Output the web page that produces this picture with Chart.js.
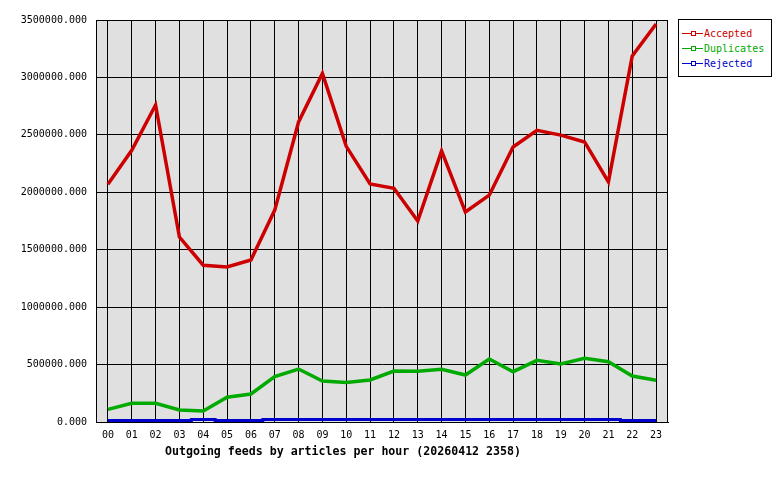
<!DOCTYPE html>
<html>
<head>
<meta charset="utf-8">
<script src="https://cdn.jsdelivr.net/npm/chart.js@4/dist/chart.umd.min.js"></script>
<style>
    body { margin: 0; background: #ffffff; }
    #wrap { position: relative; width: 780px; height: 480px; }
    #legend {
        position: absolute; left: 678px; top: 19px; width: 92px; height: 56px;
        border: 1px solid #000; background: #fff;
        font-family: "DejaVu Sans Mono", monospace; font-size: 10px;
    }
    .item { position: absolute; left: 3px; height: 12px; line-height: 12px; white-space: nowrap; }
    .sym { display: inline-block; position: relative; width: 21px; height: 12px; vertical-align: top; margin-right: 1px; }
    .sym .ln { position: absolute; left: 0; top: 5px; width: 21px; height: 1px; }
    .sym .mk { position: absolute; left: 9px; top: 3px; width: 3px; height: 3px; background: #fff; }
</style>
</head>
<body>
<div id="wrap">
    <canvas id="chart" width="780" height="480"></canvas>
    <div id="legend"></div>
</div>
<script>
// hours on the x axis
const hours = ["00","01","02","03","04","05","06","07","08","09","10","11",
               "12","13","14","15","16","17","18","19","20","21","22","23"];

// articles per hour
const accepted = [2070000, 2365000, 2760000, 1610000, 1365000, 1350000, 1410000, 1845000,
                  2612000, 3035000, 2400000, 2072000, 2035000, 1750000, 2360000, 1828000,
                  1975000, 2394000, 2540000, 2498000, 2438000, 2090000, 3187000, 3465000];
const duplicates = [110000, 163000, 163000, 104000, 96000, 215000, 244000, 395000,
                    461000, 357000, 345000, 366000, 444000, 441000, 459000, 409000,
                    548000, 438000, 537000, 505000, 555000, 525000, 400000, 363000];
const rejected = [13000, 13000, 13000, 13000, 22000, 13000, 13000, 22000,
                  22000, 22000, 22000, 22000, 22000, 22000, 22000, 22000,
                  22000, 22000, 22000, 22000, 22000, 22000, 13000, 13000];

const seriesNames = ["Accepted", "Duplicates", "Rejected"];
const seriesColors = ["#cc0000", "#00aa00", "#0000cc"];

const yMax = 3500000;
const yStep = 500000;
const xTitle = "Outgoing feeds by articles per hour (20260412 2358)";

// legend box (html)
const legend = document.getElementById("legend");
seriesNames.forEach((name, i) => {
    const c = seriesColors[i];
    const div = document.createElement("div");
    div.className = "item";
    div.style.top = (8 + i * 15) + "px";
    div.style.color = c;
    div.innerHTML = `<span class="sym"><span class="ln" style="background:${c}"></span>` +
                    `<span class="mk" style="border:1px solid ${c}"></span></span>${name}`;
    legend.appendChild(div);
});

// gray plot background, right border, title under the hours
const plotBox = {
    id: "plotBox",
    beforeDraw(chart) {
        const { ctx, chartArea: a } = chart;
        ctx.save();
        ctx.fillStyle = "#e0e0e0";
        ctx.fillRect(a.left, a.top, a.right - a.left, a.bottom - a.top);
        ctx.restore();
    },
    beforeDatasetsDraw(chart) {
        const { ctx, chartArea: a } = chart;
        ctx.save();
        ctx.strokeStyle = "#000";
        ctx.lineWidth = 1;
        ctx.strokeRect(a.left + 0.5, a.top + 0.5, a.right - a.left - 1, a.bottom - a.top);
        ctx.restore();
    },
    afterDraw(chart) {
        const { ctx, chartArea: a } = chart;
        ctx.save();
        ctx.font = "bold 11.6px 'DejaVu Sans Mono'";
        ctx.fillStyle = "#000";
        ctx.textAlign = "left";
        ctx.textBaseline = "middle";
        ctx.fillText(xTitle, a.left + 69, a.bottom + 30);
        ctx.restore();
    }
};

const allData = [accepted, duplicates, rejected];

new Chart(document.getElementById("chart"), {
    type: "line",
    data: {
        labels: hours,
        datasets: seriesNames.map((name, i) => ({
            label: name,
            data: allData[i],
            borderColor: seriesColors[i],
            borderWidth: i === 2 ? 3 : 3.5,
            pointRadius: 0,
            tension: 0,
            fill: false,
            stepped: i === 2 ? "middle" : false
        }))
    },
    plugins: [plotBox],
    options: {
        responsive: false,
        animation: false,
        layout: { padding: { left: 0, right: 112, top: 20, bottom: 20 } },
        plugins: {
            legend: { display: false },
            tooltip: { enabled: false }
        },
        scales: {
            x: {
                offset: true,
                grid: { offset: false, color: "#000", drawTicks: false },
                border: { color: "#000" },
                ticks: {
                    color: "#000",
                    padding: 7,
                    maxRotation: 0,
                    autoSkip: false,
                    font: { family: "DejaVu Sans Mono", size: 10 }
                },
                afterFit(scale) { scale.height = 38; }
            },
            y: {
                min: 0,
                max: yMax,
                grid: { color: "#000", drawTicks: false },
                border: { color: "#000" },
                ticks: {
                    stepSize: yStep,
                    color: "#000",
                    padding: 9,
                    font: { family: "DejaVu Sans Mono", size: 10 },
                    callback: value => value.toFixed(3)
                },
                afterFit(scale) { scale.width = 96; }
            }
        }
    }
});
</script>
</body>
</html>
